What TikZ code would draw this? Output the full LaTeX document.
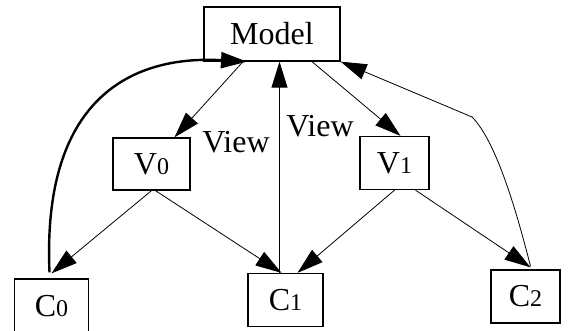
\documentclass[tikz,border=0pt]{standalone}
\usepackage{fontspec}
\setmainfont{Liberation Serif}
\usetikzlibrary{arrows.meta,calc}
\tikzset{
  mvbox/.style  ={draw, rectangle, line width=1.3pt, inner sep=0pt,
                  font=\fontsize{32}{36}\selectfont},
  mvedge/.style ={-{Triangle[length=26pt,width=16pt]}, line width=0.8pt},
  mvbold/.style ={mvedge, line width=2.4pt},
  mvlbl/.style  ={font=\fontsize{32}{36}\selectfont, inner sep=0pt},
}
% small index digit that sits on the baseline
\newcommand\mvsub[1]{{\fontsize{24}{24}\selectfont #1}}

\begin{document}
\begin{tikzpicture}[x=1pt, y=-1pt]
  \useasboundingbox (0,0) rectangle (569,331);
  % boxes
  \node[mvbox, minimum width=136pt, minimum height=54pt] (model) at (272,34) {Model};
  \node[mvbox, minimum width=77pt, minimum height=52pt] (v0) at (151.5,164) {V\mvsub{0}};
  \node[mvbox, minimum width=69pt, minimum height=53pt] (v1) at (394.5,163) {V\mvsub{1}};
  \node[mvbox, minimum width=74pt, minimum height=54pt] (c0) at (51.5,306) {C\mvsub{0}};
  \node[mvbox, minimum width=75pt, minimum height=53pt] (c1) at (285.5,300) {C\mvsub{1}};
  \node[mvbox, minimum width=69pt, minimum height=53pt] (c2) at (525.5,296.5) {C\mvsub{2}};
  \node[mvlbl] (viewa) at (236,142) {View};
  \node[mvlbl] (viewb) at (320,126) {View};
  \coordinate (c2bend) at (472,117);

  % model to views
  \draw[mvedge] ([xshift=-29pt]model.south) -- ([xshift=23pt]v0.north);
  \draw[mvedge] ([xshift=40pt]model.south) -- ([xshift=6pt]v1.north);
  % views to controllers
  \draw[mvedge] (v0.south) -- ([yshift=5pt]c0.north);
  \draw[mvedge] ([xshift=4pt]v0.south) -- ([xshift=-4pt]c1.north);
  \draw[mvedge] (v1.south) -- ([xshift=12pt]c1.north);
  \draw[mvedge] ([xshift=21pt]v1.south) -- ([xshift=5pt,yshift=2pt]c2.north);
  % controllers back to the model
  \draw[mvedge] ([xshift=-6pt]c1.north) -- ([xshift=-6pt]c1.north |- model.south);
  \draw[mvbold] ([xshift=-2pt,yshift=6pt]c0.north)
    .. controls (42,100) and (130,55) .. ([xshift=-25pt]model.south);
  \draw[mvedge] ([xshift=5pt,yshift=3pt]c2.north)
    .. controls (515,205) and (495,140) .. (c2bend) -- (model.south east);
\end{tikzpicture}
\end{document}
